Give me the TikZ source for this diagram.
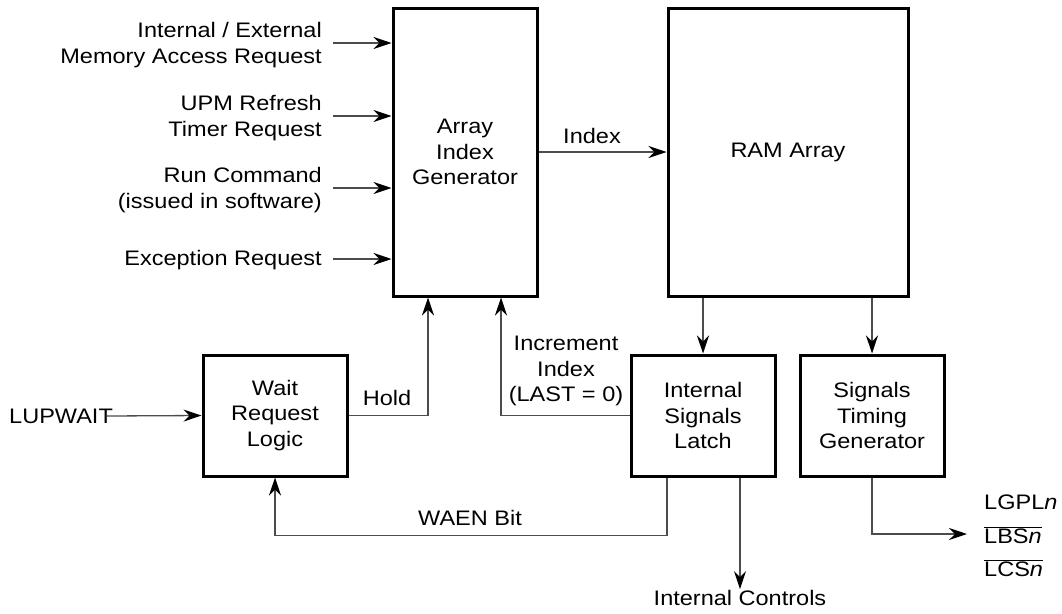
\documentclass[tikz,border=0pt]{standalone}
\usepackage{fontspec}
\setmainfont{Liberation Sans}[FakeStretch=1.12]
\usetikzlibrary{arrows.meta}
\begin{document}
\begin{tikzpicture}[x=1pt,y=-1pt,
  every node/.style={font=\fontsize{21}{25.5}\selectfont},
  blk/.style={draw=black, line width=3pt, align=center, inner sep=0pt},
  conn/.style={draw=black!70, line width=1.3pt, -{Stealth[length=18pt,width=12pt,inset=6pt,color=black]}},
  lbl/.style={align=center, inner sep=2pt},
  inlbl/.style={align=right, anchor=east, inner sep=0pt}]
\useasboundingbox (0,0) rectangle (1062,613);
% blocks
\node[blk, minimum width=144pt, minimum height=288pt] (arr) at (465,152) {Array\\Index\\Generator};
\node[blk, minimum width=240pt, minimum height=288pt] (ram) at (788,152) {RAM Array};
\node[blk, minimum width=144pt, minimum height=121pt] (wait) at (275,415.5) {Wait\\Request\\Logic};
\node[blk, minimum width=144pt, minimum height=121pt] (latch) at (703,415.5) {Internal\\Signals\\Latch};
\node[blk, minimum width=144pt, minimum height=121pt] (timing) at (872,415.5) {Signals\\Timing\\Generator};
% input labels
\node[inlbl] (in1) at (322,45) {Internal / External\\Memory Access Request};
\node[inlbl] (in2) at (322,118) {UPM Refresh\\Timer Request};
\node[inlbl] (in3) at (322,190) {Run Command\\(issued in software)};
\node[inlbl] (in4) at (322,260) {Exception Request};
\coordinate (s1) at (333,43);
\coordinate (s2) at (333,116);
\coordinate (s3) at (333,188);
\coordinate (s4) at (333,259);
\draw[conn] (s1) -- (s1 -| arr.west);
\draw[conn] (s2) -- (s2 -| arr.west);
\draw[conn] (s3) -- (s3 -| arr.west);
\draw[conn] (s4) -- (s4 -| arr.west);
% index
\draw[conn] (arr.east) -- (ram.west);
\node[lbl] (idx) at (592,136) {Index};
% RAM outputs
\draw[conn] (ram.south -| latch.north) -- (latch.north);
\draw[conn] (ram.south -| timing.north) -- (timing.north);
% hold
\draw[conn] (wait.east) -| ([xshift=-37pt]arr.south);
\node[lbl] (hold) at (387,398) {Hold};
% increment
\draw[conn] (latch.west) -| ([xshift=36pt]arr.south);
\node[lbl] (inc) at (566,371) {Increment\\Index\\(LAST = 0)};
% LUPWAIT
\node[anchor=west, inner sep=0pt] (lup) at (9,416) {LUPWAIT};
\coordinate (lups) at (107,416);
\draw[conn] (lups) -- (wait.west);
% WAEN
\draw[conn] ([xshift=-36pt]latch.south) -- ++(0,58) -| (wait.south);
\node[lbl] (waen) at (470,518) {WAEN Bit};
% internal controls
\node[lbl, inner sep=1pt] (ctrl) at (740,598) {Internal Controls};
\draw[conn] ([xshift=37pt]latch.south) -- (ctrl.north);
% timing outputs
\coordinate (tout) at (967,534);
\draw[conn] (timing.south) |- (tout);
\node[anchor=west, inner sep=0pt] (lgpl) at (984,502) {LGPL\textit{n}};
\node[anchor=west, inner sep=0pt] (lbs) at (984,535) {$\overline{\mbox{LBS\textit{n}}}$};
\node[anchor=west, inner sep=0pt] (lcs) at (984,568) {$\overline{\mbox{LCS\textit{n}}}$};
\end{tikzpicture}
\end{document}
